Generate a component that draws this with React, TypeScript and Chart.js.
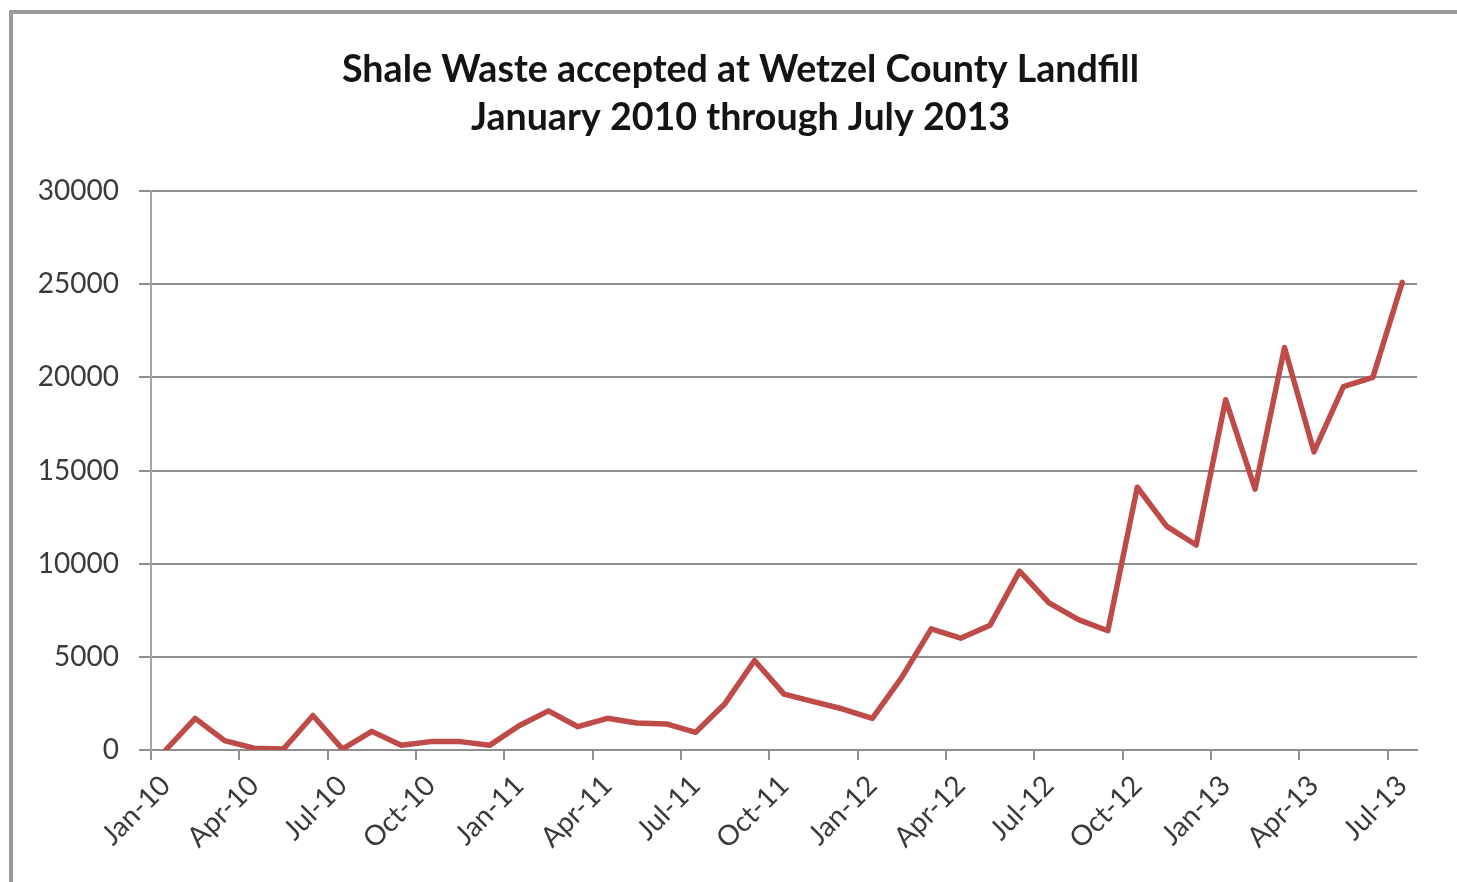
import React, { useEffect, useRef } from "react";
import { Chart, registerables } from "chart.js";

Chart.register(...registerables);

const titleLines = [
  "Shale Waste accepted at Wetzel County Landfill",
  "January 2010 through July 2013",
];

const months = [
  "Jan-10", "Feb-10", "Mar-10", "Apr-10", "May-10", "Jun-10", "Jul-10", "Aug-10", "Sep-10", "Oct-10", "Nov-10", "Dec-10",
  "Jan-11", "Feb-11", "Mar-11", "Apr-11", "May-11", "Jun-11", "Jul-11", "Aug-11", "Sep-11", "Oct-11", "Nov-11", "Dec-11",
  "Jan-12", "Feb-12", "Mar-12", "Apr-12", "May-12", "Jun-12", "Jul-12", "Aug-12", "Sep-12", "Oct-12", "Nov-12", "Dec-12",
  "Jan-13", "Feb-13", "Mar-13", "Apr-13", "May-13", "Jun-13", "Jul-13",
];

const shaleWaste = [
  0, 1700, 500, 100, 50, 1850, 50, 1000, 250, 450, 450, 250,
  1300, 2100, 1250, 1700, 1450, 1400, 950, 2500, 4800, 3000, 2600, 2200,
  1700, 3900, 6500, 6000, 6700, 9600, 7900, 7000, 6400, 14100, 12000, 11000,
  18800, 14000, 21600, 16000, 19500, 20000, 25100,
];

const yMin = 0;
const yMax = 30000;
const yStep = 5000;
const labelEvery = 3;

const shiftTitle = {
  id: "shiftTitle",
  afterLayout(chart: any) {
    const t = chart.titleBlock;
    if (t) {
      t.left += 64;
    }
  },
};

export default function App() {
  const canvasRef = useRef<HTMLCanvasElement | null>(null);

  useEffect(() => {
    if (!canvasRef.current) return;
    const axisGray = "#8f8f8f";
    const chart = new Chart(canvasRef.current, {
      type: "line",
      data: {
        labels: months,
        datasets: [
          {
            label: "Shale Waste",
            data: shaleWaste,
            borderColor: "#BE4B48",
            backgroundColor: "#BE4B48",
            borderWidth: 5.5,
            pointRadius: 0,
            tension: 0,
            borderJoinStyle: "round",
            borderCapStyle: "round",
          },
        ],
      },
      plugins: [shiftTitle],
      options: {
        responsive: false,
        animation: false,
        layout: { padding: { top: 46, left: 0, right: 40, bottom: 0 } },
        plugins: {
          legend: { display: false },
          tooltip: { enabled: false },
          title: {
            display: true,
            text: titleLines,
            color: "#141414",
            font: { family: "Lato", size: 37.6, weight: "bold", lineHeight: 48 / 37.6 },
            padding: { top: 0, bottom: 49 },
          },
        },
        scales: {
          x: {
            type: "category",
            offset: true,
            afterFit: (scale: any) => {
              scale.height = 132;
            },
            grid: {
              display: true,
              drawOnChartArea: false,
              drawTicks: true,
              tickLength: 10,
              offset: true,
              lineWidth: 2,
              color: (ctx: any) => (ctx.index % labelEvery === 0 ? axisGray : "rgba(0,0,0,0)"),
            },
            border: { display: true, color: axisGray, width: 2 },
            ticks: {
              autoSkip: false,
              maxRotation: 45,
              minRotation: 45,
              padding: 9,
              color: "#3a3a3a",
              font: { family: "Lato", size: 28 },
              callback: (_v: any, i: number) => (i % labelEvery === 0 ? months[i] : ""),
            },
          },
          y: {
            min: yMin,
            max: yMax,
            afterFit: (scale: any) => {
              scale.width = 151;
            },
            grid: {
              color: axisGray,
              lineWidth: 2,
              drawTicks: true,
              tickLength: 12,
            },
            border: { display: true, color: "#a5a5a5", width: 2 },
            ticks: {
              stepSize: yStep,
              padding: 20,
              color: "#3a3a3a",
              font: { family: "Lato", size: 28 },
              callback: (v: any) => String(v),
            },
          },
        },
      },
    });
    return () => chart.destroy();
  }, []);

  return (
    <div style={{ position: "absolute", left: 0, top: 0, width: 1457, height: 882, background: "#fff", overflow: "hidden" }}>
      <div
        style={{
          position: "absolute",
          left: 9,
          top: 10,
          width: 1460,
          height: 900,
          borderLeft: "4px solid #9a9a9a",
          borderTop: "4px solid #9a9a9a",
          boxSizing: "border-box",
        }}
      />
      <canvas ref={canvasRef} width={1457} height={882} style={{ position: "absolute", left: 0, top: 0 }} />
    </div>
  );
}
